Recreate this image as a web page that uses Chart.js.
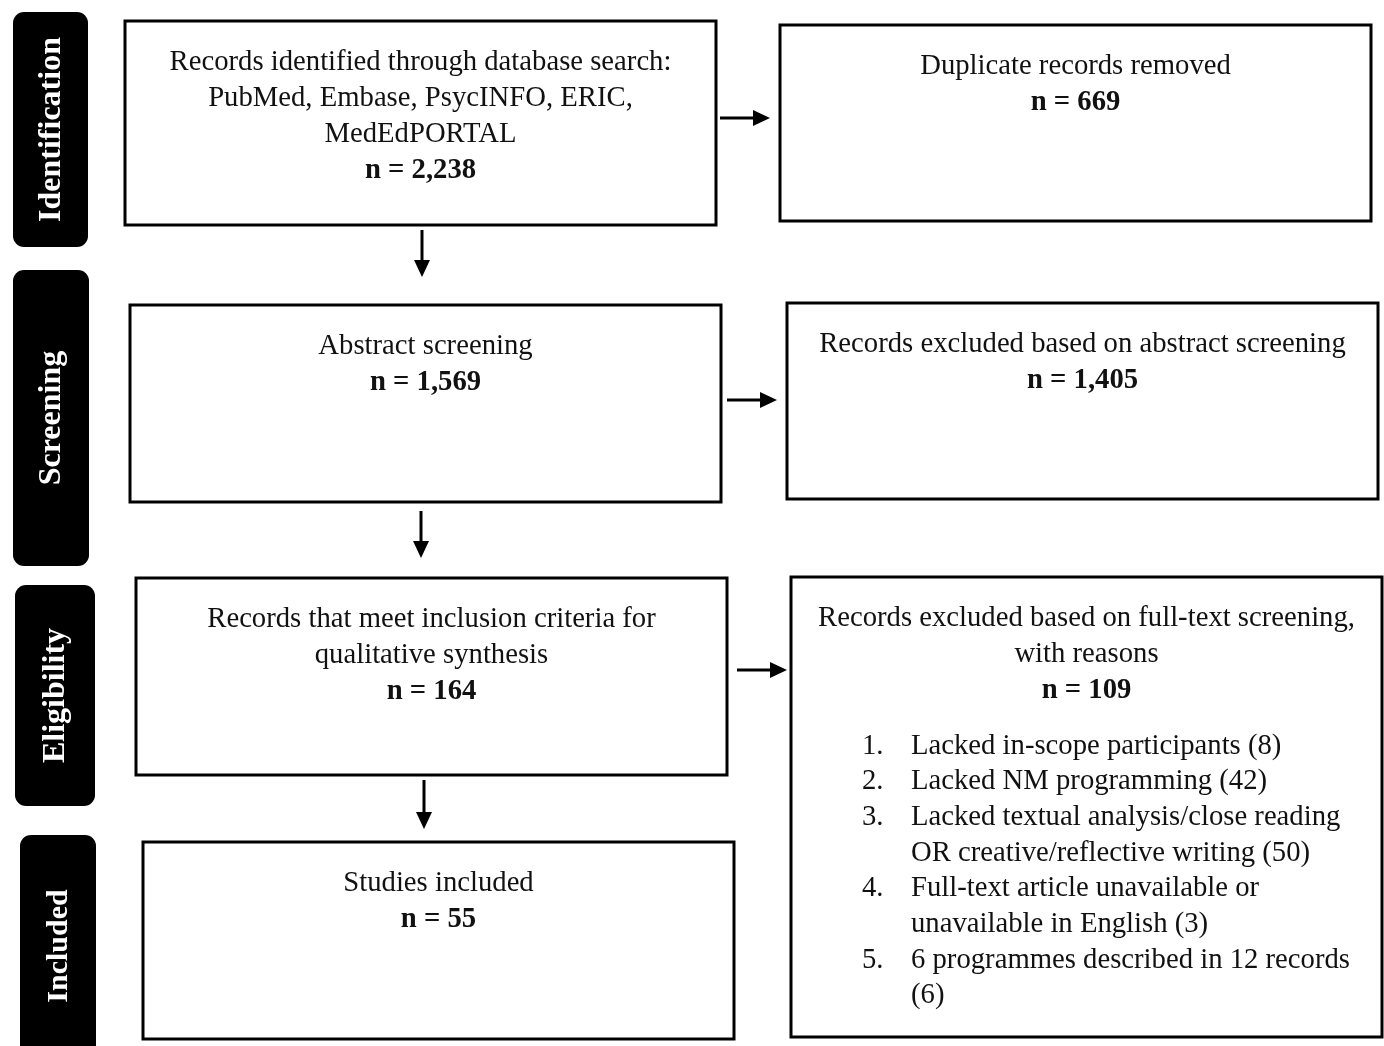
<!DOCTYPE html>
<html>
<head>
<meta charset="utf-8">
<script src="https://cdn.jsdelivr.net/npm/chart.js@4"></script>
<style>
  html, body { margin: 0; padding: 0; background: #fff; }
  #wrap { width: 1384px; height: 1046px; }
</style>
</head>
<body>
<div id="wrap"><canvas id="flow" width="1384" height="1046"></canvas></div>
<script>
// stages and counts
const stages = ['Identification', 'Screening', 'Eligibility', 'Included'];
const mainLabels = [
  ['Records identified through database search:', 'PubMed, Embase, PsycINFO, ERIC,', 'MedEdPORTAL'],
  ['Abstract screening'],
  ['Records that meet inclusion criteria for', 'qualitative synthesis'],
  ['Studies included']
];
const mainCounts = ['2,238', '1,569', '164', '55'];
const sideLabels = [
  ['Duplicate records removed'],
  ['Records excluded based on abstract screening'],
  ['Records excluded based on full-text screening,', 'with reasons']
];
const sideCounts = ['669', '1,405', '109'];
const reasons = [
  ['Lacked in-scope participants (8)'],
  ['Lacked NM programming (42)'],
  ['Lacked textual analysis/close reading', 'OR creative/reflective writing (50)'],
  ['Full-text article unavailable or', 'unavailable in English (3)'],
  ['6 programmes described in 12 records', '(6)']
];

// layout in diagram units (x 0..1384, y 0..1046, y down)
const stageBoxes = [[13, 12, 88, 247], [13, 270, 89, 566], [15, 585, 95, 806], [20, 835, 96, 1060]];
const mainBoxes = [[125, 21, 716, 225], [130, 305, 721, 502], [136, 578, 727, 775], [143, 842, 734, 1039]];
const sideBoxes = [[780, 25, 1371, 221], [787, 303, 1378, 499], [791, 577, 1382, 1037]];
const lineGap = 36;

const SERIF = '"Liberation Serif", "Times New Roman", serif';
const FS = 28.7;

const flowPlugin = {
  id: 'flow',
  afterDraw(chart) {
    const ctx = chart.ctx;
    const xs = chart.scales.x, ys = chart.scales.y;
    const X = v => xs.getPixelForValue(v);
    const Y = v => ys.getPixelForValue(v);
    ctx.save();

    // stage tabs
    stages.forEach((s, i) => {
      const [x0, y0, x1, y1] = stageBoxes[i];
      ctx.fillStyle = '#000';
      ctx.beginPath();
      ctx.roundRect(X(x0), Y(y0), X(x1) - X(x0), Y(y1) - Y(y0), 11);
      ctx.fill();
      ctx.save();
      ctx.translate((X(x0) + X(x1)) / 2 + 1, i === 3 ? Y(946) : (Y(y0) + Y(y1)) / 2);
      ctx.rotate(-Math.PI / 2);
      ctx.fillStyle = '#fff';
      ctx.font = 'bold ' + (i === 3 ? 30 : 32) + 'px ' + SERIF;
      ctx.textAlign = 'center';
      ctx.textBaseline = 'middle';
      ctx.fillText(s, 0, 0);
      ctx.restore();
    });

    function box(b) {
      const [x0, y0, x1, y1] = b;
      ctx.strokeStyle = '#000';
      ctx.lineWidth = 3;
      ctx.strokeRect(X(x0), Y(y0), X(x1) - X(x0), Y(y1) - Y(y0));
    }
    function textBlock(b, lines, count) {
      const cx = (X(b[0]) + X(b[2])) / 2;
      let y = Y(b[1]) + 41;
      ctx.fillStyle = '#111';
      ctx.textAlign = 'center';
      ctx.textBaseline = 'middle';
      ctx.font = FS + 'px ' + SERIF;
      lines.forEach(l => { ctx.fillText(l, cx, y); y += lineGap; });
      ctx.font = 'bold ' + FS + 'px ' + SERIF;
      ctx.fillText('n = ' + count, cx, y + 1);
      return y;
    }

    mainBoxes.forEach((b, i) => { box(b); textBlock(b, mainLabels[i], mainCounts[i]); });
    sideBoxes.forEach((b, i) => {
      box(b);
      textBlock(b, sideLabels[i], sideCounts[i]);
      if (i === 2) {
        let y = Y(746);
        ctx.font = FS + 'px ' + SERIF;
        ctx.textAlign = 'left';
        reasons.forEach((r, k) => {
          ctx.fillText((k + 1) + '.', X(862), y);
          r.forEach(l => { ctx.fillText(l, X(911), y); y += 35.7; });
        });
      }
    });

    // arrows
    function arrow(x0, y0, x1, y1) {
      ctx.strokeStyle = '#000';
      ctx.fillStyle = '#000';
      ctx.lineWidth = 3;
      const ang = Math.atan2(Y(y1) - Y(y0), X(x1) - X(x0));
      const hl = 17, hw = 8;
      const ex = X(x1) - Math.cos(ang) * hl, ey = Y(y1) - Math.sin(ang) * hl;
      ctx.beginPath();
      ctx.moveTo(X(x0), Y(y0));
      ctx.lineTo(ex, ey);
      ctx.stroke();
      ctx.beginPath();
      ctx.moveTo(X(x1), Y(y1));
      ctx.lineTo(ex - Math.sin(ang) * hw, ey + Math.cos(ang) * hw);
      ctx.lineTo(ex + Math.sin(ang) * hw, ey - Math.cos(ang) * hw);
      ctx.closePath();
      ctx.fill();
    }
    arrow(720, 118, 770, 118);
    arrow(727, 400, 777, 400);
    arrow(737, 670, 787, 670);
    arrow(422, 230, 422, 277);
    arrow(421, 511, 421, 558);
    arrow(424, 780, 424, 829);

    ctx.restore();
  }
};

new Chart(document.getElementById('flow'), {
  type: 'scatter',
  data: { datasets: [{ data: [], pointRadius: 0 }] },
  options: {
    responsive: false,
    animation: false,
    devicePixelRatio: 1,
    layout: { padding: 0 },
    plugins: { legend: { display: false }, tooltip: { enabled: false } },
    scales: {
      x: { type: 'linear', min: 0, max: 1384, display: false },
      y: { type: 'linear', min: 0, max: 1046, reverse: true, display: false }
    }
  },
  plugins: [flowPlugin]
});
</script>
</body>
</html>
